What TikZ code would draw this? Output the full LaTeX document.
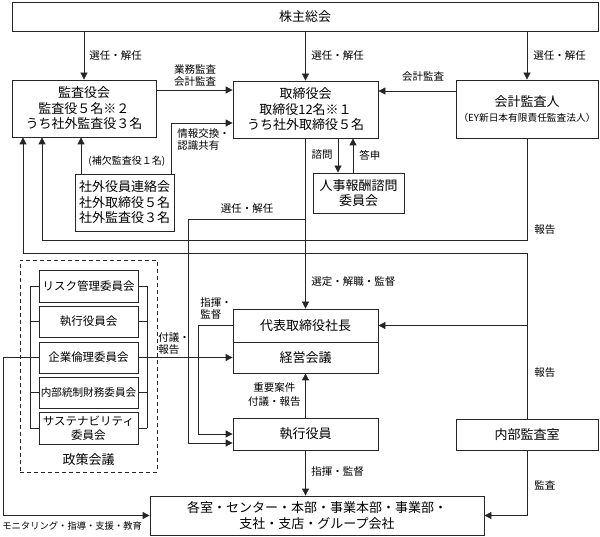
\documentclass[tikz,border=0pt]{standalone}
\usepackage{fontspec}
\setmainfont{Noto Sans CJK JP}
\usetikzlibrary{arrows.meta}
\begin{document}
\begin{tikzpicture}[x=1pt,y=-1pt,
  line width=0.8pt, draw=black!85,
  arr/.style={-{Triangle[length=7pt,width=7pt]}},
  box/.style={draw, inner sep=0pt, align=center, font=\fontsize{13}{15.5}\selectfont},
  cbox/.style={draw, inner sep=0pt, align=center, minimum width=99pt, font=\fontsize{11.5}{13.5}\selectfont},
  lbl/.style={inner sep=0pt, font=\fontsize{10.5}{12}\selectfont},
]
\useasboundingbox (0,0) rectangle (600,537);

% main boxes
\node[box, minimum width=586pt, minimum height=29pt] (sh) at (305,16.5) {株主総会};
\node[box, minimum width=144pt, minimum height=57pt] (kansa) at (84,108.5) {監査役会\\監査役５名※２\\うち社外監査役３名};
\node[box, minimum width=145pt, minimum height=57pt] (tori) at (305.5,109.5) {取締役会\\取締役12名※１\\うち社外取締役５名};
\node[box, minimum width=142pt, minimum height=58pt] (kaikei) at (527,109) {会計監査人\\{\fontsize{9.7}{12}\selectfont （EY新日本有限責任監査法人）}};
\node[box, minimum width=99pt, minimum height=57pt] (shagai) at (124.5,202.5) {社外役員連絡会\\社外取締役５名\\社外監査役３名};
\node[box, minimum width=91pt, minimum height=40pt] (jinji) at (358.5,193) {人事報酬諮問\\委員会};
\node[box, minimum width=145pt, minimum height=33pt] (daihyo) at (305.5,325.5) {代表取締役社長};
\node[box, minimum width=145pt, minimum height=31pt] (keiei) at (305.5,357.5) {経営会議};
\node[box, minimum width=145pt, minimum height=32pt] (shikko) at (305.5,434) {執行役員};
\node[box, minimum width=142pt, minimum height=31pt] (naibu) at (527,434.5) {内部監査室};
\node[box, minimum width=334pt, minimum height=39pt] (kaku) at (317,515.5) {各室・センター・本部・事業本部・事業部・\\支社・支店・グループ会社};

% policy council
\node[draw, dash pattern=on 4pt off 3pt, minimum width=137pt, minimum height=212pt, inner sep=0pt] (seisaku) at (88.5,366) {};
\node[inner sep=0pt, font=\fontsize{13}{15}\selectfont] (seisakulbl) at (88.5,460) {政策会議};
\node[cbox, minimum height=32pt] (c1) at (88.5,286) {リスク管理委員会};
\node[cbox, minimum height=31pt] (c2) at (88.5,321.5) {執行役員会};
\node[cbox, minimum height=31pt] (c3) at (88.5,357.5) {企業倫理委員会};
\node[cbox, minimum height=31pt, font=\fontsize{10.6}{13}\selectfont] (c4) at (88.5,392.5) {内部統制財務委員会};
\node[cbox, minimum height=32pt] (c5) at (88.5,428) {サステナビリティ\\委員会};

\coordinate (bl) at (30,0);
\coordinate (br) at (147,0);
\draw (c1.west -| bl) -- (c5.west -| bl);
\draw (c1.east -| br) -- (c5.east -| br);
\foreach \c in {c1,c2,c3,c4,c5} {
  \draw (\c.west) -- (\c.west -| bl);
  \draw (\c.east) -- (\c.east -| br);
}

% connectors
\draw[arr] (sh.south -| kansa.north) -- (kansa.north);
\draw[arr] (sh.south -| tori.north) -- (tori.north);
\draw[arr] (sh.south -| kaikei.north) -- (kaikei.north);
\coordinate (ya) at (0,90);
\draw[arr] (kansa.east |- ya) -- (tori.west |- ya);
\coordinate (yb) at (0,91);
\draw[arr] (kaikei.west |- yb) -- (tori.east |- yb);
\coordinate (p1) at (171,123);
\draw[arr] (shagai.north -| p1) -- (p1) -- (tori.west |- p1);
\coordinate (p2) at (81,0);
\draw[arr] (shagai.north -| p2) -- (kansa.south -| p2);
\coordinate (r1) at (42,240);
\draw[arr] (kaikei.south) -- (kaikei.south |- r1) -- (r1) -- (kansa.south -| r1);
\coordinate (r2) at (23,253);
\draw[arr] (naibu.north) -- (naibu.north |- r2) -- (r2) -- (kansa.south -| r2);
\draw[arr] (daihyo.east -| naibu.north) -- (daihyo.east);
\draw[arr] (tori.south) -- (daihyo.north);
\coordinate (s1) at (188,219);
\coordinate (s2) at (188,443);
\draw[arr] (tori.south |- s1) -- (s1) -- (s2) -- (shikko.west |- s2);
\coordinate (t1) at (198,325.5);
\coordinate (t2) at (198,434);
\draw[arr] (daihyo.west) -- (t1) -- (t2) -- (shikko.west);
\draw[arr] (shikko.north) -- (keiei.south);
\draw[arr] (shikko.south) -- (shikko.south |- kaku.north);
\draw[arr] (naibu.south) |- (kaku.east);
\coordinate (v1) at (338,0);
\coordinate (v2) at (353,0);
\draw[arr] (tori.south -| v1) -- (jinji.north -| v1);
\draw[arr] (jinji.north -| v2) -- (tori.south -| v2);
\draw[arr] (c3.east -| br) -- (keiei.west);
\coordinate (m1) at (3,357.5);
\coordinate (m2) at (3,515.5);
\draw[arr] (c3.west -| bl) -- (m1) -- (m2) -- (kaku.west);

% labels
\node[lbl, anchor=west] (l1) at (89,56) {選任・解任};
\node[lbl, anchor=west] (l2) at (311,56) {選任・解任};
\node[lbl, anchor=west] (l3) at (533,56) {選任・解任};
\node[lbl, align=center] (l4) at (195,76) {業務監査\\会計監査};
\node[lbl] (l5) at (423,77) {会計監査};
\node[lbl, anchor=north west, align=left] (l6) at (177,128) {情報交換・\\認識共有};
\node[lbl, anchor=west, font=\fontsize{10}{12}\selectfont] (l7) at (88,161) {(補欠監査役１名)};
\node[lbl] (l8) at (247,209) {選任・解任};
\node[lbl, anchor=east] (l9) at (333,155) {諮問};
\node[lbl, anchor=west] (l10) at (359,155) {答申};
\node[lbl, anchor=west] (l11) at (534,230) {報告};
\node[lbl, anchor=west] (l12) at (311,282) {選定・解職・監督};
\node[lbl, anchor=north west, align=left] (l13) at (200,297) {指揮・\\監督};
\node[lbl, anchor=north west, align=left] (l14) at (158,332) {付議・\\報告};
\node[lbl, anchor=west] (l15) at (534,373) {報告};
\node[lbl, anchor=east, align=center, font=\fontsize{10.5}{14}\selectfont] (l16) at (301,395) {重要案件\\付議・報告};
\node[lbl, anchor=west] (l17) at (311,472) {指揮・監督};
\node[lbl, anchor=west] (l18) at (534,485) {監査};
\node[lbl, anchor=west, font=\fontsize{9.3}{11}\selectfont] (l19) at (2,526) {モニタリング・指導・支援・教育};
\end{tikzpicture}
\end{document}
